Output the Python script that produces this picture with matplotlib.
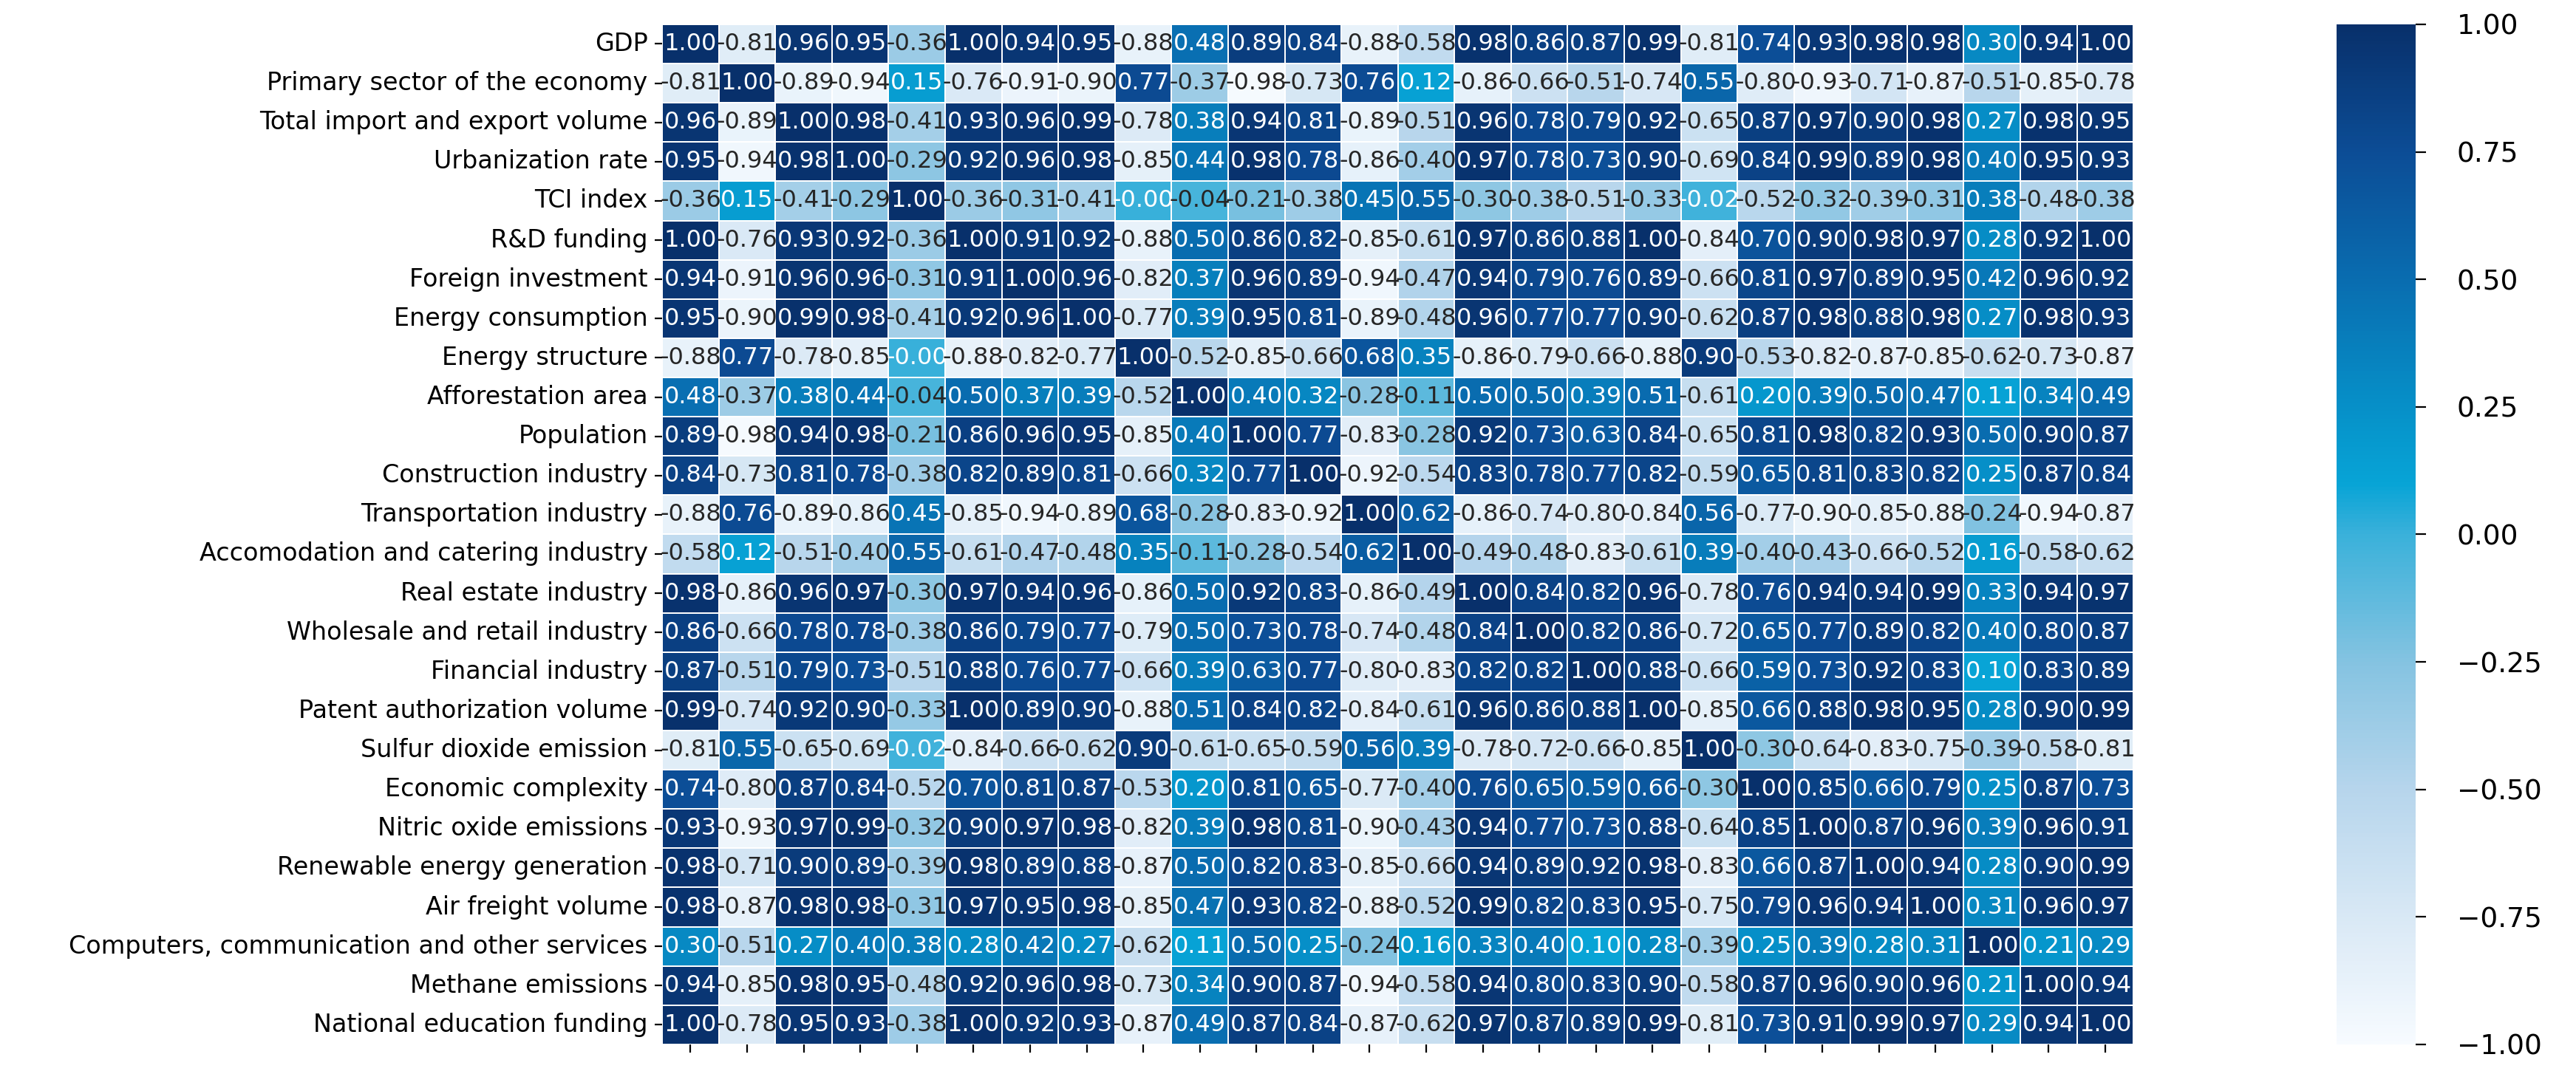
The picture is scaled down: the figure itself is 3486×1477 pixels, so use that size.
import numpy as np
import matplotlib
matplotlib.use("Agg")
import matplotlib.pyplot as plt
import seaborn as sns
from matplotlib.colors import LinearSegmentedColormap

labels = [
    "GDP",
    "Primary sector of the economy",
    "Total import and export volume",
    "Urbanization rate",
    "TCI index",
    "R&D funding",
    "Foreign investment",
    "Energy consumption",
    "Energy structure",
    "Afforestation area",
    "Population",
    "Construction industry",
    "Transportation industry",
    "Accomodation and catering industry",
    "Real estate industry",
    "Wholesale and retail industry",
    "Financial industry",
    "Patent authorization volume",
    "Sulfur dioxide emission",
    "Economic complexity",
    "Nitric oxide emissions",
    "Renewable energy generation",
    "Air freight volume",
    "Computers, communication and other services",
    "Methane emissions",
    "National education funding",
]

# correlation matrix, one list per row (same order as labels)
corr = [
    [1.00, -0.81, 0.96, 0.95, -0.36, 1.00, 0.94, 0.95, -0.88, 0.48, 0.89, 0.84, -0.88, -0.58, 0.98, 0.86, 0.87, 0.99, -0.81, 0.74, 0.93, 0.98, 0.98, 0.30, 0.94, 1.00],
    [-0.81, 1.00, -0.89, -0.94, 0.15, -0.76, -0.91, -0.90, 0.77, -0.37, -0.98, -0.73, 0.76, 0.12, -0.86, -0.66, -0.51, -0.74, 0.55, -0.80, -0.93, -0.71, -0.87, -0.51, -0.85, -0.78],
    [0.96, -0.89, 1.00, 0.98, -0.41, 0.93, 0.96, 0.99, -0.78, 0.38, 0.94, 0.81, -0.89, -0.51, 0.96, 0.78, 0.79, 0.92, -0.65, 0.87, 0.97, 0.90, 0.98, 0.27, 0.98, 0.95],
    [0.95, -0.94, 0.98, 1.00, -0.29, 0.92, 0.96, 0.98, -0.85, 0.44, 0.98, 0.78, -0.86, -0.40, 0.97, 0.78, 0.73, 0.90, -0.69, 0.84, 0.99, 0.89, 0.98, 0.40, 0.95, 0.93],
    [-0.36, 0.15, -0.41, -0.29, 1.00, -0.36, -0.31, -0.41, -0.00, -0.04, -0.21, -0.38, 0.45, 0.55, -0.30, -0.38, -0.51, -0.33, -0.02, -0.52, -0.32, -0.39, -0.31, 0.38, -0.48, -0.38],
    [1.00, -0.76, 0.93, 0.92, -0.36, 1.00, 0.91, 0.92, -0.88, 0.50, 0.86, 0.82, -0.85, -0.61, 0.97, 0.86, 0.88, 1.00, -0.84, 0.70, 0.90, 0.98, 0.97, 0.28, 0.92, 1.00],
    [0.94, -0.91, 0.96, 0.96, -0.31, 0.91, 1.00, 0.96, -0.82, 0.37, 0.96, 0.89, -0.94, -0.47, 0.94, 0.79, 0.76, 0.89, -0.66, 0.81, 0.97, 0.89, 0.95, 0.42, 0.96, 0.92],
    [0.95, -0.90, 0.99, 0.98, -0.41, 0.92, 0.96, 1.00, -0.77, 0.39, 0.95, 0.81, -0.89, -0.48, 0.96, 0.77, 0.77, 0.90, -0.62, 0.87, 0.98, 0.88, 0.98, 0.27, 0.98, 0.93],
    [-0.88, 0.77, -0.78, -0.85, -0.00, -0.88, -0.82, -0.77, 1.00, -0.52, -0.85, -0.66, 0.68, 0.35, -0.86, -0.79, -0.66, -0.88, 0.90, -0.53, -0.82, -0.87, -0.85, -0.62, -0.73, -0.87],
    [0.48, -0.37, 0.38, 0.44, -0.04, 0.50, 0.37, 0.39, -0.52, 1.00, 0.40, 0.32, -0.28, -0.11, 0.50, 0.50, 0.39, 0.51, -0.61, 0.20, 0.39, 0.50, 0.47, 0.11, 0.34, 0.49],
    [0.89, -0.98, 0.94, 0.98, -0.21, 0.86, 0.96, 0.95, -0.85, 0.40, 1.00, 0.77, -0.83, -0.28, 0.92, 0.73, 0.63, 0.84, -0.65, 0.81, 0.98, 0.82, 0.93, 0.50, 0.90, 0.87],
    [0.84, -0.73, 0.81, 0.78, -0.38, 0.82, 0.89, 0.81, -0.66, 0.32, 0.77, 1.00, -0.92, -0.54, 0.83, 0.78, 0.77, 0.82, -0.59, 0.65, 0.81, 0.83, 0.82, 0.25, 0.87, 0.84],
    [-0.88, 0.76, -0.89, -0.86, 0.45, -0.85, -0.94, -0.89, 0.68, -0.28, -0.83, -0.92, 1.00, 0.62, -0.86, -0.74, -0.80, -0.84, 0.56, -0.77, -0.90, -0.85, -0.88, -0.24, -0.94, -0.87],
    [-0.58, 0.12, -0.51, -0.40, 0.55, -0.61, -0.47, -0.48, 0.35, -0.11, -0.28, -0.54, 0.62, 1.00, -0.49, -0.48, -0.83, -0.61, 0.39, -0.40, -0.43, -0.66, -0.52, 0.16, -0.58, -0.62],
    [0.98, -0.86, 0.96, 0.97, -0.30, 0.97, 0.94, 0.96, -0.86, 0.50, 0.92, 0.83, -0.86, -0.49, 1.00, 0.84, 0.82, 0.96, -0.78, 0.76, 0.94, 0.94, 0.99, 0.33, 0.94, 0.97],
    [0.86, -0.66, 0.78, 0.78, -0.38, 0.86, 0.79, 0.77, -0.79, 0.50, 0.73, 0.78, -0.74, -0.48, 0.84, 1.00, 0.82, 0.86, -0.72, 0.65, 0.77, 0.89, 0.82, 0.40, 0.80, 0.87],
    [0.87, -0.51, 0.79, 0.73, -0.51, 0.88, 0.76, 0.77, -0.66, 0.39, 0.63, 0.77, -0.80, -0.83, 0.82, 0.82, 1.00, 0.88, -0.66, 0.59, 0.73, 0.92, 0.83, 0.10, 0.83, 0.89],
    [0.99, -0.74, 0.92, 0.90, -0.33, 1.00, 0.89, 0.90, -0.88, 0.51, 0.84, 0.82, -0.84, -0.61, 0.96, 0.86, 0.88, 1.00, -0.85, 0.66, 0.88, 0.98, 0.95, 0.28, 0.90, 0.99],
    [-0.81, 0.55, -0.65, -0.69, -0.02, -0.84, -0.66, -0.62, 0.90, -0.61, -0.65, -0.59, 0.56, 0.39, -0.78, -0.72, -0.66, -0.85, 1.00, -0.30, -0.64, -0.83, -0.75, -0.39, -0.58, -0.81],
    [0.74, -0.80, 0.87, 0.84, -0.52, 0.70, 0.81, 0.87, -0.53, 0.20, 0.81, 0.65, -0.77, -0.40, 0.76, 0.65, 0.59, 0.66, -0.30, 1.00, 0.85, 0.66, 0.79, 0.25, 0.87, 0.73],
    [0.93, -0.93, 0.97, 0.99, -0.32, 0.90, 0.97, 0.98, -0.82, 0.39, 0.98, 0.81, -0.90, -0.43, 0.94, 0.77, 0.73, 0.88, -0.64, 0.85, 1.00, 0.87, 0.96, 0.39, 0.96, 0.91],
    [0.98, -0.71, 0.90, 0.89, -0.39, 0.98, 0.89, 0.88, -0.87, 0.50, 0.82, 0.83, -0.85, -0.66, 0.94, 0.89, 0.92, 0.98, -0.83, 0.66, 0.87, 1.00, 0.94, 0.28, 0.90, 0.99],
    [0.98, -0.87, 0.98, 0.98, -0.31, 0.97, 0.95, 0.98, -0.85, 0.47, 0.93, 0.82, -0.88, -0.52, 0.99, 0.82, 0.83, 0.95, -0.75, 0.79, 0.96, 0.94, 1.00, 0.31, 0.96, 0.97],
    [0.30, -0.51, 0.27, 0.40, 0.38, 0.28, 0.42, 0.27, -0.62, 0.11, 0.50, 0.25, -0.24, 0.16, 0.33, 0.40, 0.10, 0.28, -0.39, 0.25, 0.39, 0.28, 0.31, 1.00, 0.21, 0.29],
    [0.94, -0.85, 0.98, 0.95, -0.48, 0.92, 0.96, 0.98, -0.73, 0.34, 0.90, 0.87, -0.94, -0.58, 0.94, 0.80, 0.83, 0.90, -0.58, 0.87, 0.96, 0.90, 0.96, 0.21, 1.00, 0.94],
    [1.00, -0.78, 0.95, 0.93, -0.38, 1.00, 0.92, 0.93, -0.87, 0.49, 0.87, 0.84, -0.87, -0.62, 0.97, 0.87, 0.89, 0.99, -0.81, 0.73, 0.91, 0.99, 0.97, 0.29, 0.94, 1.00],
]

# white -> light blue -> cyan -> navy
cmap_nodes = [
    (0.000, "#f7fbff"),
    (0.125, "#d8e8f5"),
    (0.250, "#b6d5ec"),
    (0.375, "#84c3e1"),
    (0.500, "#3ab1da"),
    (0.550, "#07a4d6"),
    (0.625, "#0690c8"),
    (0.750, "#096db0"),
    (0.875, "#0c4d96"),
    (1.000, "#08306b"),
]
cmap = LinearSegmentedColormap.from_list("cyan_blues", cmap_nodes)

mat = np.array(corr)

fig = plt.figure(figsize=(3487 / 200, 1477 / 200), dpi=200)
ax = fig.add_axes([0.257, 0.0427, 0.571, 0.935])
cax = fig.add_axes([0.9068, 0.0427, 0.0307, 0.935])

sns.heatmap(
    mat,
    ax=ax,
    cbar_ax=cax,
    cmap=cmap,
    vmin=-1,
    vmax=1,
    annot=True,
    fmt=".2f",
    annot_kws={"fontsize": 11.5},
    linewidths=0.6,
    linecolor="white",
    xticklabels=False,
    yticklabels=labels,
)

# text colour: white on the darker / cyan cells
for txt, v in zip(ax.texts, mat.flatten()):
    txt.set_color("white" if v > -0.03 else "#262626")

ax.set_xticks(np.arange(len(labels)) + 0.5)
ax.set_xticklabels([])
ax.tick_params(axis="y", labelsize=12, rotation=0)
ax.tick_params(axis="x", length=4)
cax.tick_params(labelsize=13.5, length=5, pad=15)

fig.savefig("out.png", dpi=200)
